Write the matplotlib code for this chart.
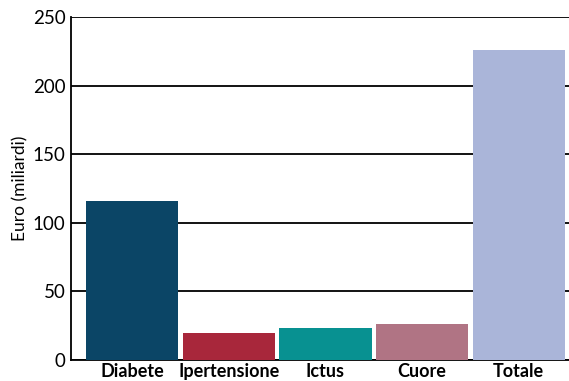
import matplotlib.pyplot as plt

categorie = ['Diabete', 'Ipertensione', 'Ictus', 'Cuore', 'Totale']
costi = [116, 20, 23, 26, 226]
colori = ['#0b4566', '#a8273b', '#089191', '#b07484', '#aab5d9']
yticks = [0, 50, 100, 150, 200, 250]

plt.rcParams['font.family'] = ['Lato', 'DejaVu Sans']

fig = plt.figure(figsize=(5.69, 3.81), dpi=100)
ax = fig.add_axes([0.125, 0.055, 0.875, 0.9])

x = range(len(categorie))
ax.bar(x, costi, width=0.955, color=colori, zorder=3)

# linee orizzontali nere dietro le barre
ax.set_yticks(yticks)
ax.grid(axis='y', color='black', linewidth=1.3, zorder=0)
ax.set_ylim(0, 250)
ax.set_xlim(-0.63, 4.52)

ax.set_xticks(list(x))
ax.set_xticklabels(categorie, fontsize=13, fontweight='bold')
ax.tick_params(axis='both', length=0, pad=2)
ax.tick_params(axis='y', labelsize=13.5, pad=4)
ax.set_ylabel('Euro (miliardi)', fontsize=12.5, labelpad=3)

for s in ['top', 'right']:
    ax.spines[s].set_visible(False)
ax.spines['left'].set_linewidth(1.3)
ax.spines['bottom'].set_linewidth(1.3)

fig.savefig('out.png', dpi=100)
